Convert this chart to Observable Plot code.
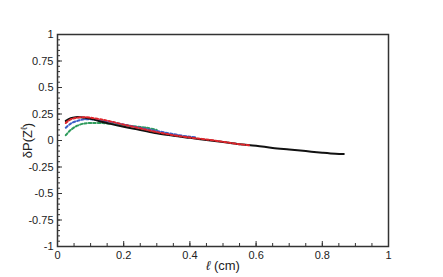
<!DOCTYPE html>
<html>
<head>
<meta charset="utf-8">
<script src="https://cdn.jsdelivr.net/npm/d3@7"></script>
<script src="https://cdn.jsdelivr.net/npm/@observablehq/plot@0.6"></script>
<style>
  html, body { margin: 0; padding: 0; background: #fff; }
</style>
</head>
<body>
<div id="chart"></div>
<script>
// Black solid curve
const blackX = [0.025, 0.04, 0.055, 0.07, 0.1, 0.13, 0.16, 0.2, 0.25, 0.3, 0.35, 0.4, 0.45, 0.5, 0.55, 0.6, 0.65, 0.7, 0.75, 0.8, 0.84, 0.865];
const blackY = [0.185, 0.21, 0.22, 0.22, 0.205, 0.18, 0.157, 0.13, 0.10, 0.068, 0.045, 0.025, 0.005, -0.015, -0.035, -0.05, -0.07, -0.085, -0.10, -0.115, -0.125, -0.128];
// Red dashed curve
const redX = [0.025, 0.04, 0.06, 0.08, 0.1, 0.13, 0.16, 0.2, 0.25, 0.3, 0.35, 0.4, 0.45, 0.5, 0.55, 0.58];
const redY = [0.165, 0.2, 0.215, 0.22, 0.215, 0.2, 0.18, 0.15, 0.115, 0.08, 0.05, 0.028, 0.01, -0.012, -0.035, -0.045];
// Blue dashed curve
const blueX = [0.025, 0.04, 0.06, 0.08, 0.1, 0.13, 0.16, 0.2, 0.25, 0.3, 0.35, 0.4, 0.42];
const blueY = [0.12, 0.16, 0.185, 0.2, 0.2, 0.19, 0.175, 0.15, 0.12, 0.09, 0.06, 0.035, 0.03];
// Green dashed curve
const greenX = [0.025, 0.04, 0.06, 0.08, 0.1, 0.13, 0.16, 0.2, 0.23, 0.27, 0.3];
const greenY = [0.05, 0.1, 0.14, 0.16, 0.165, 0.165, 0.158, 0.145, 0.135, 0.12, 0.1];

// Tick values
const xMajor = [0, 0.2, 0.4, 0.6, 0.8, 1];
const xTickLabels = ["0", "0.2", "0.4", "0.6", "0.8", "1"];
const yMajor = [-1, -0.75, -0.5, -0.25, 0, 0.25, 0.5, 0.75, 1];
const yTickLabels = ["-1", "-0.75", "-0.5", "-0.25", "0", "0.25", "0.5", "0.75", "1"];
const xMinor = d3.range(0, 101, 5).map(v => v / 100);
const yMinor = d3.range(-100, 101, 5).map(v => v / 100);

const toPts = (xs, ys) => xs.map((x, i) => ({x, y: ys[i]}));

const W = 443, H = 277;
const mL = 57, mR = 55, mT = 34, mB = 31;
const frameW = W - mL - mR, frameH = H - mT - mB;

const chart = Plot.plot({
  width: W,
  height: H,
  marginLeft: mL,
  marginRight: mR,
  marginTop: mT,
  marginBottom: mB,
  style: {fontFamily: "'Liberation Sans', Arial, Helvetica, sans-serif", fontSize: "11px", background: "#fff", color: "#222"},
  x: {domain: [0, 1]},
  y: {domain: [-1, 1]},
  marks: [
    // minor & major inside ticks
    Plot.tickX(xMinor, {x: d => d, insetTop: frameH - 3, stroke: "#333"}),
    Plot.tickX(xMajor, {x: d => d, insetTop: frameH - 5, stroke: "#333"}),
    Plot.tickY(yMinor, {y: d => d, insetRight: frameW - 3, stroke: "#333"}),
    Plot.tickY(yMajor, {y: d => d, insetRight: frameW - 5, stroke: "#333"}),
    Plot.axisX({ticks: xMajor, tickSize: 0, tickPadding: 5, tickFormat: (d, i) => xTickLabels[i],
      label: "ℓ (cm)", labelAnchor: "center", labelOffset: 23, labelArrow: false, fontSize: 11}),
    Plot.axisY({ticks: yMajor, tickSize: 0, tickPadding: 4, tickFormat: (d, i) => yTickLabels[i],
      label: "δP(Zℓ)", labelAnchor: "center", labelOffset: 35, labelArrow: false, fontSize: 11}),
    Plot.line(toPts(greenX, greenY), {x: "x", y: "y", stroke: "#2e9b5c", strokeWidth: 2, strokeDasharray: "2.5,2", curve: "catmull-rom"}),
    Plot.line(toPts(blueX, blueY), {x: "x", y: "y", stroke: "#3b5fc8", strokeWidth: 2, strokeDasharray: "2.5,2", curve: "catmull-rom"}),
    Plot.line(toPts(blackX, blackY), {x: "x", y: "y", stroke: "#111", strokeWidth: 2, curve: "catmull-rom"}),
    Plot.line(toPts(redX, redY), {x: "x", y: "y", stroke: "#e0252b", strokeWidth: 2, strokeDasharray: "2.5,2", curve: "catmull-rom"}),
    Plot.frame({stroke: "#333", strokeWidth: 1.5})
  ]
});

document.getElementById("chart").appendChild(chart);

const ns = "http://www.w3.org/2000/svg";
// Superscript ℓ in the y-axis label
const yl = chart.querySelector('g[aria-label="y-axis label"] text');
if (yl) {
  yl.setAttribute("font-size", "13");
  yl.textContent = "";
  const t1 = document.createElementNS(ns, "tspan"); t1.textContent = "δP(Z";
  const t2 = document.createElementNS(ns, "tspan"); t2.textContent = "ℓ"; t2.setAttribute("dy", "-5"); t2.setAttribute("font-size", "9");
  const t3 = document.createElementNS(ns, "tspan"); t3.textContent = ")"; t3.setAttribute("dy", "5");
  yl.append(t1, t2, t3);
}
const xl = chart.querySelector('g[aria-label="x-axis label"] text');
if (xl) {
  xl.setAttribute("font-size", "13");
  xl.textContent = "";
  const a = document.createElementNS(ns, "tspan"); a.textContent = "ℓ"; a.setAttribute("font-style", "italic");
  const b = document.createElementNS(ns, "tspan"); b.textContent = " (cm)";
  xl.append(a, b);
}
</script>
</body>
</html>
